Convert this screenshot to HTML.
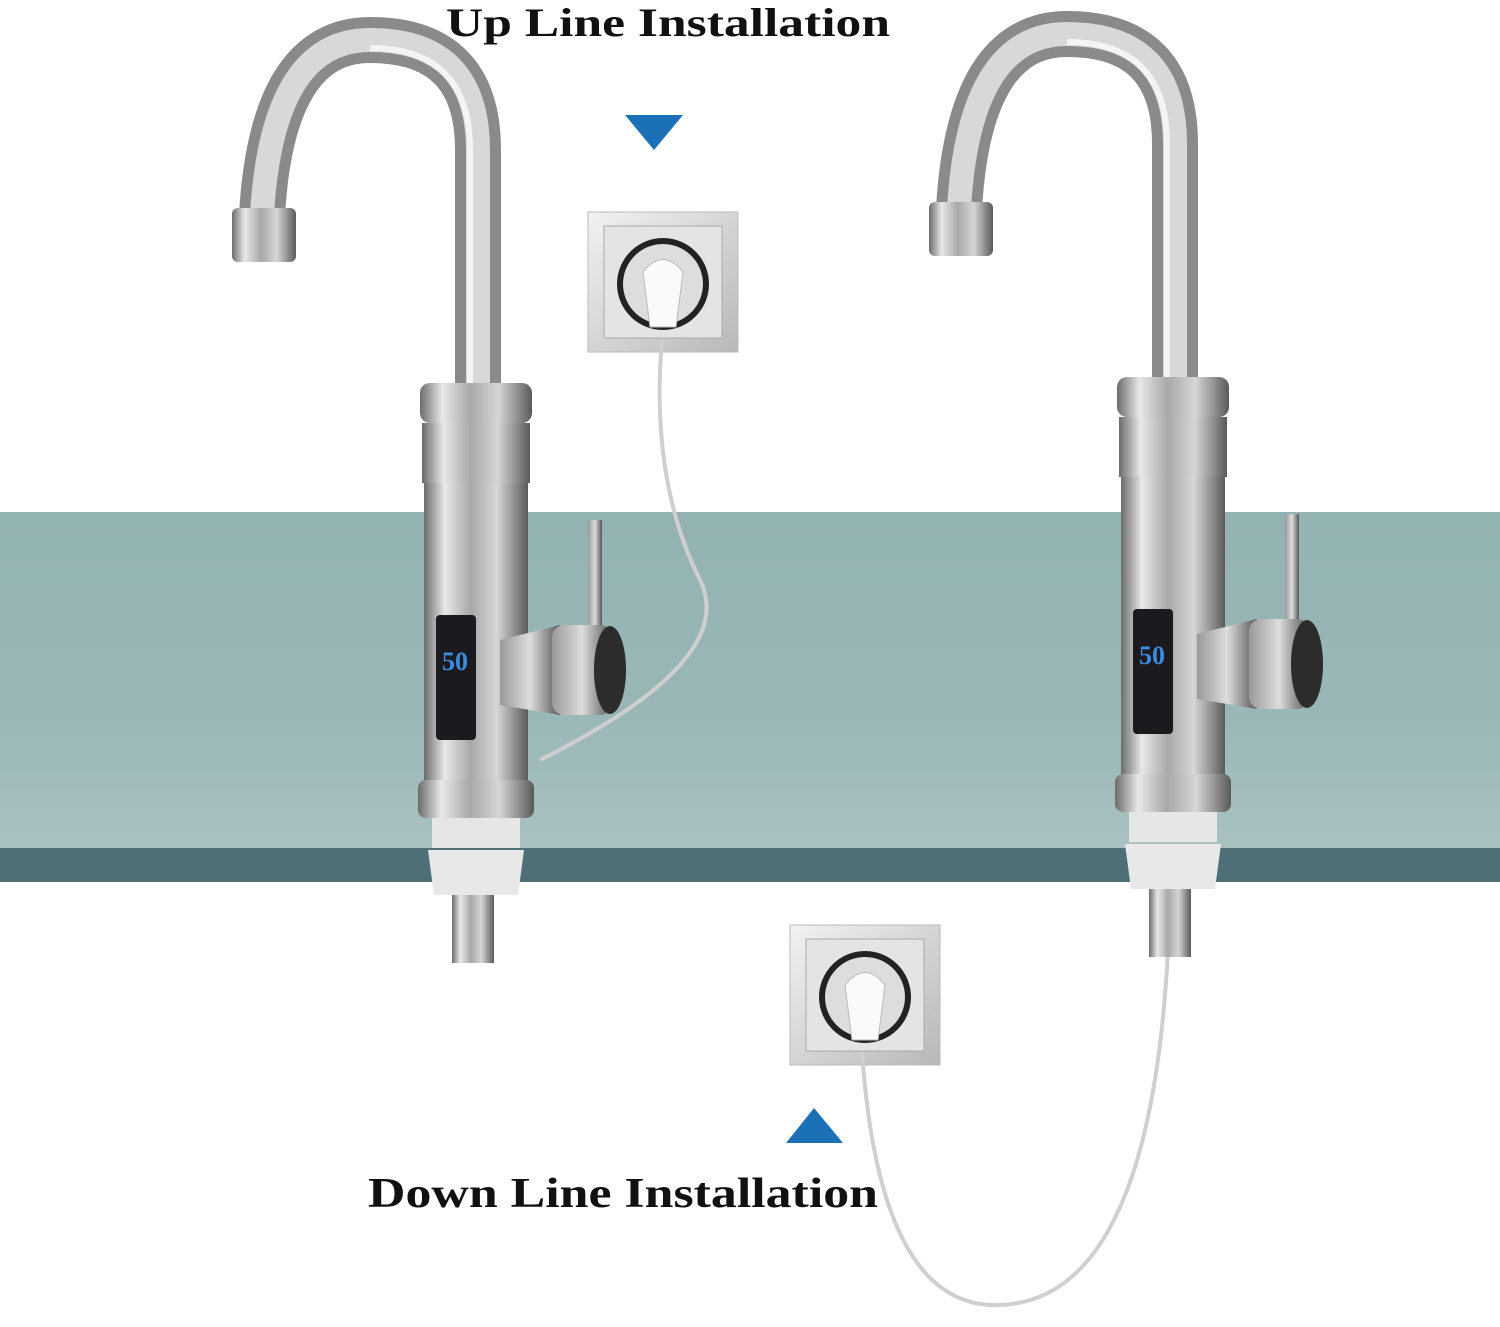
<!DOCTYPE html>
<html><head><meta charset="utf-8"><style>
html,body{margin:0;padding:0;background:#fff;}
svg{display:block}
text{font-family:"Liberation Serif",serif;font-weight:bold;}
</style></head><body>
<svg width="1500" height="1327" viewBox="0 0 1500 1327" xmlns="http://www.w3.org/2000/svg">
<defs>
<linearGradient id="cyl" x1="0" x2="1" y1="0" y2="0">
<stop offset="0" stop-color="#6c6c6c"/><stop offset="0.2" stop-color="#e8e8e8"/><stop offset="0.45" stop-color="#a8a8a8"/><stop offset="0.7" stop-color="#d6d6d6"/><stop offset="1" stop-color="#5a5a5a"/>
</linearGradient>
<linearGradient id="counter" x1="0" x2="0" y1="0" y2="1">
<stop offset="0" stop-color="#93b2b2"/><stop offset="0.6" stop-color="#9ab7b7"/><stop offset="1" stop-color="#a9c1c1"/>
</linearGradient>
<linearGradient id="sock" x1="0" x2="1" y1="0" y2="1">
<stop offset="0" stop-color="#f2f2f2"/><stop offset="1" stop-color="#b8b8b8"/>
</linearGradient>
<linearGradient id="knob" x1="0" x2="1"><stop offset="0" stop-color="#999"/><stop offset="0.5" stop-color="#ddd"/><stop offset="1" stop-color="#555"/></linearGradient>
<g id="faucet">
<path d="M478 390 L478 150 Q478 40 370 40 Q272 40 262 215" fill="none" stroke="#8a8a8a" stroke-width="46"/>
<path d="M478 390 L478 150 Q478 40 370 40 Q272 40 262 215" fill="none" stroke="#d8d8d8" stroke-width="24"/>
<path d="M470 390 L470 150 Q470 48 370 48" fill="none" stroke="#f4f4f4" stroke-width="6"/>
<rect x="232" y="208" width="64" height="54" rx="6" fill="url(#cyl)"/>
<rect x="420" y="383" width="112" height="40" rx="10" fill="url(#cyl)"/>
<rect x="422" y="423" width="108" height="60" fill="url(#cyl)"/>
<rect x="424" y="483" width="104" height="300" fill="url(#cyl)"/>
<rect x="418" y="780" width="116" height="38" rx="8" fill="url(#cyl)"/>
<rect x="436" y="615" width="40" height="125" rx="4" fill="#1b1b1f"/>
<text x="442" y="670" font-family="Liberation Mono,monospace" font-size="26" fill="#3b8be0">50</text>
<rect x="588" y="520" width="14" height="115" fill="url(#knob)"/>
<path d="M500 640 L560 625 L560 715 L500 705 Z" fill="url(#knob)"/>
<rect x="552" y="625" width="60" height="90" rx="12" fill="url(#knob)"/>
<ellipse cx="610" cy="670" rx="16" ry="44" fill="#2c2c2c"/>
<rect x="432" y="818" width="88" height="30" fill="#e6e6e6"/>
<path d="M428 850 L524 850 L518 895 L434 895 Z" fill="#e8e8e8"/>
<rect x="452" y="895" width="42" height="68" fill="url(#cyl)"/>
</g>
<g id="socket">
<rect x="0" y="0" width="150" height="140" fill="url(#sock)" stroke="#bbb"/>
<rect x="16" y="14" width="118" height="112" fill="#e4e4e4" stroke="#aaa"/>
<circle cx="75" cy="72" r="46" fill="#222"/>
<circle cx="75" cy="72" r="40" fill="#ddd"/>
<path d="M55 60 Q75 35 95 60 L88 115 L62 115 Z" fill="#fafafa" stroke="#bbb"/>
</g>
</defs>
<rect width="1500" height="1327" fill="#fff"/>
<rect x="0" y="512" width="1500" height="336" fill="url(#counter)"/>
<rect x="0" y="848" width="1500" height="34" fill="#4e6f76"/>
<text x="446" y="36" font-size="40" textLength="444" lengthAdjust="spacingAndGlyphs" fill="#111">Up Line Installation</text>
<text x="368" y="1207" font-size="42" textLength="510" lengthAdjust="spacingAndGlyphs" fill="#111">Down Line Installation</text>
<polygon points="625,115 683,115 654,150" fill="#1b70b6"/>
<polygon points="786,1143 843,1143 814,1108" fill="#1b70b6"/>
<use href="#socket" x="588" y="212"/>
<use href="#socket" x="790" y="925"/>
<path d="M662 340 Q650 480 700 580 Q740 660 540 760" fill="none" stroke="#cfcfcf" stroke-width="4"/>
<path d="M862 1052 Q880 1310 1000 1305 Q1150 1300 1168 950" fill="none" stroke="#cfcfcf" stroke-width="4"/>
<use href="#faucet"/>
<use href="#faucet" x="697" y="-6"/>
</svg>
</body></html>
